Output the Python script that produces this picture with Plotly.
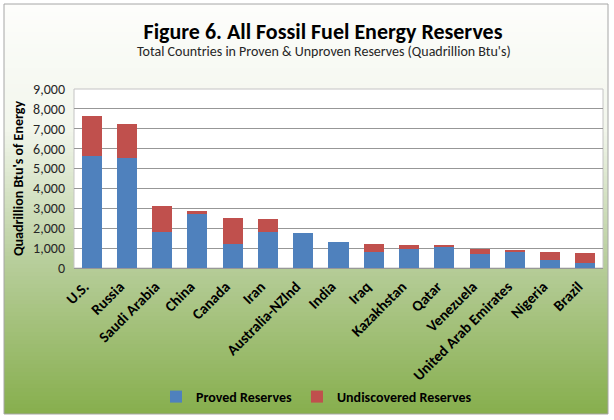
import plotly.graph_objects as go

countries = ["U.S.", "Russia", "Saudi Arabia", "China", "Canada", "Iran", "Australia-NZlnd",
             "India", "Iraq", "Kazakhstan", "Qatar", "Venezuela", "United Arab Emirates",
             "Nigeria", "Brazil"]
proved = [5640, 5520, 1790, 2710, 1230, 1790, 1750, 1330, 810, 940, 1080, 680, 830, 420, 250]
undiscovered = [2010, 1710, 1340, 150, 1260, 670, 0, 0, 400, 240, 30, 260, 60, 370, 480]
y_ticks = [0, 1000, 2000, 3000, 4000, 5000, 6000, 7000, 8000, 9000]

W, H = 614, 420
L, R, T, B = 74, 11, 89, 152
PW, PH = W - L - R, H - T - B

def xp(px):
    return (px - L) / PW

def yp(py):
    return (H - B - py) / PH

FONT = "Carlito, Calibri, Lato, sans-serif"

fig = go.Figure()
fig.add_trace(go.Bar(name="Proved Reserves", x=countries, y=proved,
                     marker=dict(color="#4f81bd", line=dict(width=0))))
fig.add_trace(go.Bar(name="Undiscovered Reserves", x=countries, y=undiscovered,
                     marker=dict(color="#c0504d", line=dict(width=0))))

shapes = []
# gradient background
stops = [(0.0, (253, 253, 251)), (0.3, (242, 246, 236)), (0.62, (184, 206, 156)), (1.0, (134, 174, 76))]
def col(t):
    for i in range(len(stops) - 1):
        t0, c0 = stops[i]
        t1, c1 = stops[i + 1]
        if t <= t1:
            f = (t - t0) / (t1 - t0)
            return "rgb(%d,%d,%d)" % tuple(round(c0[k] + (c1[k] - c0[k]) * f) for k in range(3))
    return "rgb(%d,%d,%d)" % stops[-1][1]

top, bot = 4, 414
step = 4
py = top
while py < bot:
    t = (py - top) / (bot - top)
    shapes.append(dict(type="rect", xref="paper", yref="paper", layer="below",
                       x0=xp(4), x1=xp(608), y0=yp(py), y1=yp(min(py + step + 0.5, bot)),
                       fillcolor=col(t), line=dict(width=0)))
    py += step
shapes.append(dict(type="rect", xref="paper", yref="paper", layer="below",
                   x0=xp(4), x1=xp(608), y0=yp(4), y1=yp(414),
                   fillcolor="rgba(0,0,0,0)", line=dict(color="#a6a6a6", width=1)))
shapes.append(dict(type="rect", xref="paper", yref="paper", layer="below",
                   x0=0, x1=1, y0=0, y1=1, fillcolor="white",
                   line=dict(color="#c4c4c4", width=1)))

fig.update_layout(
    width=W, height=H,
    margin=dict(l=L, r=R, t=T, b=B, autoexpand=False),
    paper_bgcolor="white", plot_bgcolor="white",
    barmode="stack", bargap=0.43,
    shapes=shapes,
    title=dict(text="<b>Figure 6. All Fossil Fuel Energy Reserves</b>",
               font=dict(family=FONT, size=22, color="#000000"),
               x=323 / W, xanchor="center", xref="container",
               y=1 - 31 / H, yanchor="middle", yref="container"),
    annotations=[dict(text="Total Countries in Proven &amp; Unproven Reserves (Quadrillion Btu's)",
                      xref="paper", yref="paper", x=xp(324), y=yp(52),
                      xanchor="center", yanchor="middle", showarrow=False,
                      font=dict(family=FONT, size=14, color="#262626"))],
    xaxis=dict(tickangle=-45, tickfont=dict(family=FONT, size=15, color="#000000", weight="bold"),
               showgrid=False, showline=False, ticks="", automargin=False,
               ticklabelstandoff=6, ticklabelshift=-7),
    yaxis=dict(range=[0, 9000], tickvals=y_ticks, tickformat=",d",
               tickfont=dict(family=FONT, size=14, color="#262626"),
               showgrid=True, gridcolor="#979797", gridwidth=1,
               zeroline=True, zerolinecolor="#979797", zerolinewidth=1,
               ticklabelstandoff=8, automargin=False,
               title=dict(text="<b>Quadrillion Btu's of Energy</b>",
                          font=dict(family=FONT, size=14, color="#000000"), standoff=6)),
    legend=dict(orientation="h", x=xp(156), xanchor="left", y=yp(397), yanchor="middle",
                font=dict(family=FONT, size=14, color="#000000", weight="bold"),
                bgcolor="rgba(0,0,0,0)", traceorder="normal", itemwidth=30),
    showlegend=True,
)

fig.write_html("out.html", config={"displayModeBar": False},
               post_script="document.body.style.margin='0px';")
